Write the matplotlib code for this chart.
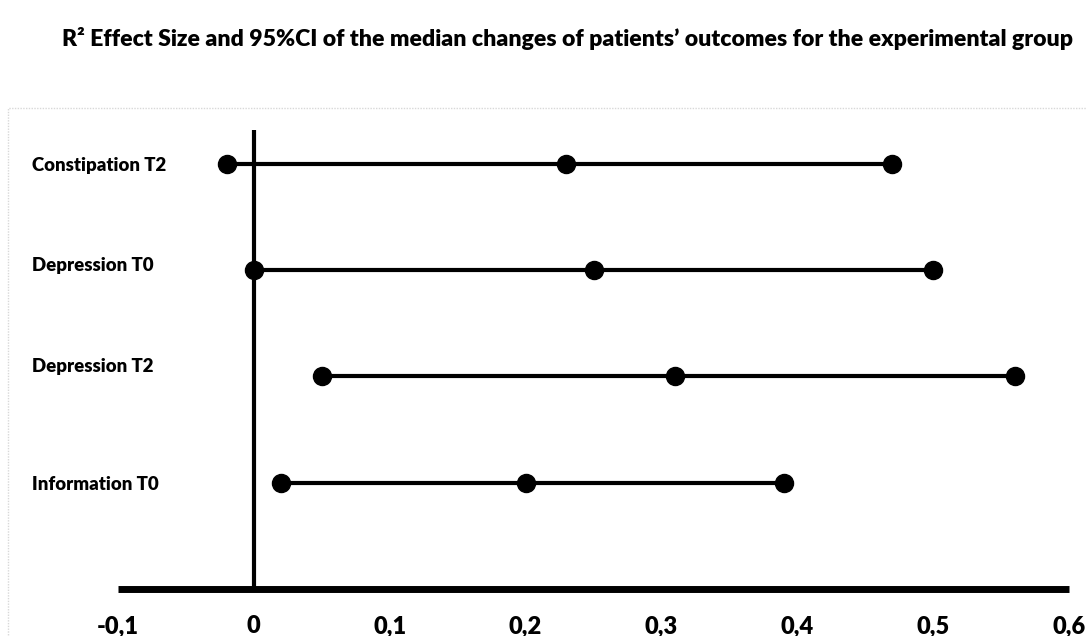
import matplotlib
matplotlib.use("Agg")
import matplotlib.pyplot as plt
from matplotlib.patches import Rectangle
from matplotlib.transforms import offset_copy, blended_transform_factory

categories = ["Constipation T2", "Depression T0", "Depression T2", "Information T0"]
lower = [-0.02, 0.00, 0.05, 0.02]
median = [0.23, 0.25, 0.31, 0.20]
upper = [0.47, 0.50, 0.56, 0.39]
xtick_values = [-0.1, 0.0, 0.1, 0.2, 0.3, 0.4, 0.5, 0.6]
xtick_labels = ["-0,1", "0", "0,1", "0,2", "0,3", "0,4", "0,5", "0,6"]
title = "R² Effect Size and 95%CI of the median changes of patients’ outcomes for the experimental group"

FONT = ["Lato", "DejaVu Sans"]
plt.rcParams["font.family"] = FONT

W, H = 1087, 636
fig = plt.figure(figsize=(W / 100, H / 100), dpi=100)

# faint outer frame
fig.patches.append(Rectangle((8 / W, -0.1), 1.2, (H - 108) / H + 0.1,
                             transform=fig.transFigure, fill=False,
                             edgecolor="#d8d8d8", linewidth=1.0, linestyle=(0, (1, 1))))

left_px, right_px = 118, 1069
bottom_px, top_px = 589, 130
ax = fig.add_axes([left_px / W, (H - bottom_px) / H,
                   (right_px - left_px) / W, (bottom_px - top_px) / H])

n = len(categories)
rows = [n - i for i in range(n)]  # 4,3,2,1
row_step_px = 106.3
ax.set_xlim(-0.1, 0.6)
ax.set_ylim(0, (bottom_px - top_px) / row_step_px)

for y, lo, me, hi in zip(rows, lower, median, upper):
    ax.plot([lo, hi], [y, y], color="black", linewidth=3.0, solid_capstyle="butt", zorder=3)
    ax.plot([lo, me, hi], [y, y, y], linestyle="none", marker="o", markersize=13,
            color="black", clip_on=False, zorder=4)

ax.axvline(0, color="black", linewidth=3.0, zorder=2)

for s in ["top", "right", "left"]:
    ax.spines[s].set_visible(False)
ax.spines["bottom"].set_linewidth(5.0)
ax.spines["bottom"].set_capstyle("butt")
ax.set_yticks([])
ax.set_xticks(xtick_values)
ax.set_xticklabels(xtick_labels, fontsize=17, fontweight="heavy")
ax.tick_params(axis="x", length=0, pad=19)

# category labels (left-aligned near the figure edge)
label_dy_pt = [0.0, 4.5, 8.5, 0.0]
bt = blended_transform_factory(fig.transFigure, ax.transData)
for y, lab, dy in zip(rows, categories, label_dy_pt):
    tr = offset_copy(bt, fig=fig, x=0, y=dy, units="points")
    ax.text(32 / W, y, lab, transform=tr, ha="left", va="center_baseline",
            fontsize=13.4, fontweight="heavy", clip_on=False)

fig.text(567 / W, 1 - 38 / H, title, ha="center", va="center",
         fontsize=16.6, fontweight="heavy")

fig.savefig("out.png", dpi=100, facecolor="white")
